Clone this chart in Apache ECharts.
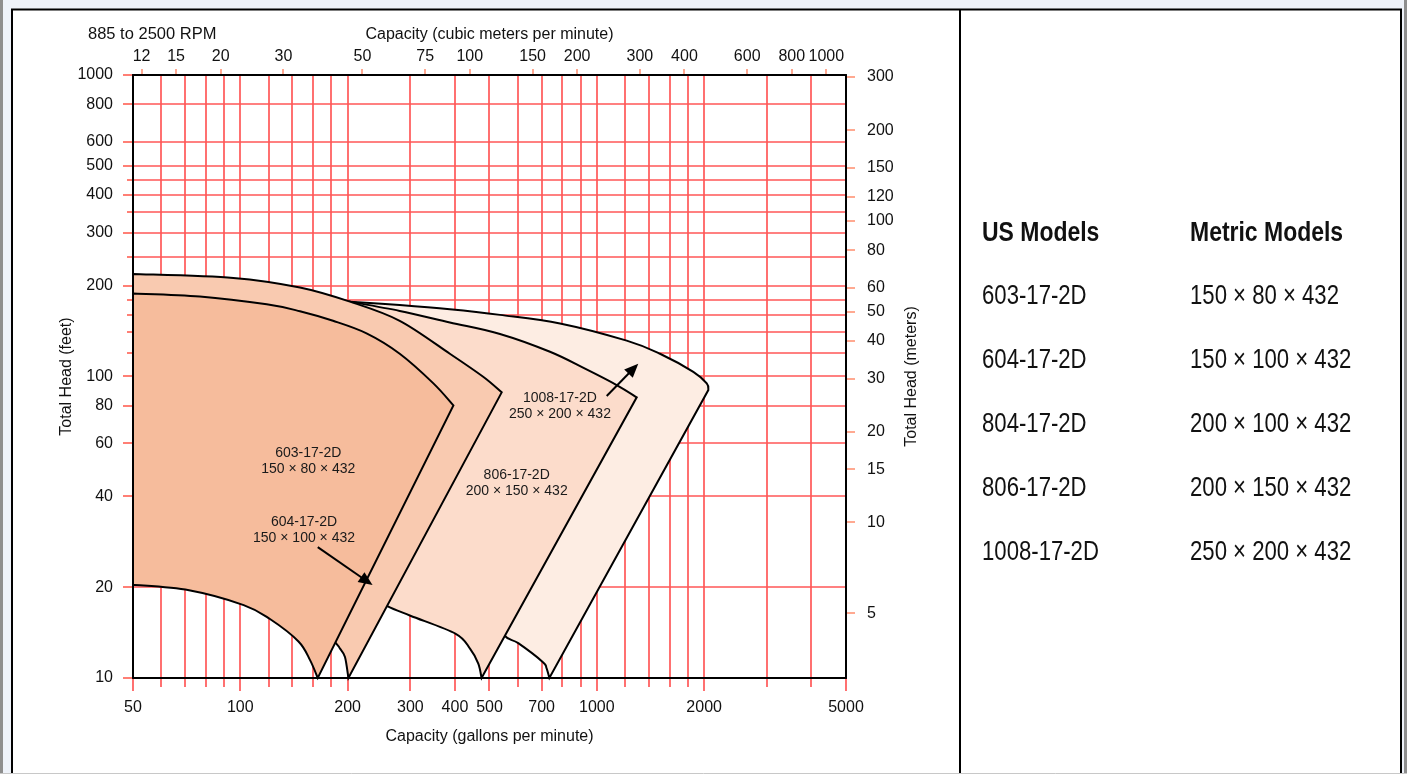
<!DOCTYPE html>
<html>
<head>
<meta charset="utf-8">
<script src="https://cdn.jsdelivr.net/npm/echarts@6/dist/echarts.min.js"></script>
<style>
html,body{margin:0;padding:0;background:#ffffff;overflow:hidden;}
#chart{width:1407px;height:774px;}
</style>
</head>
<body>
<div id="chart"></div>
<script>
// ---------------- data ----------------
const GPM_MIN = 50, GPM_MAX = 5000;
const FT_MIN = 10, FT_MAX = 1000;
const M3H_PER_GPM = 0.2271247;
const M_PER_FT = 0.3048;

// vertical grid lines (gpm) and labelled gpm ticks
const gpmGridValues = [60,70,80,90,100,120,140,160,180,200,300,400,500,600,700,800,900,1000,1200,1400,1600,1800,2000,3000,4000];
const gpmLabelValues = [50,100,200,300,400,500,700,1000,2000,5000];
// horizontal grid lines (feet) and labelled feet ticks
const ftGridValues = [20,40,60,80,100,120,140,160,180,200,250,300,350,400,450,500,600,800];
const ftLabelValues = [10,20,40,60,80,100,200,300,400,500,600,800,1000];
// secondary axes tick labels
const m3hLabelValues = [12,15,20,30,50,75,100,150,200,300,400,600,800,1000];
const meterLabelValues = [5,10,15,20,30,40,50,60,80,100,120,150,200,300];

// pump coverage regions: top curve (left -> corner), bottom curve (vertex -> left)  [gpm, ft]
const pump603Top = [[50,188.6],[77,184.3],[118.6,173.5],[147,164.6],[182,153],[226,139],[280,119],[348,94.9],[396,80.2]];
const pump603Bottom = [[164.9,10],[156.9,11.46],[145.6,13.22],[121.1,15.69],[102.2,17.45],[71.8,19.54],[50,20.38]];
const pump604Top = [[50,218.8],[95.6,212.3],[147,197.3],[203,177.1],[280,153],[387,119],[480,99.8],[541,88.6]];
const pump604Bottom = [[201,10],[196.6,11.74],[190.4,12.51],[184.4,13.15],[147,18.02],[50,24.37]];
const pump806Top = [[203,177.1],[280,165],[387,151.1],[535,138.4],[739,120.8],[926.7,106.2],[1137,93.7],[1294,85.3]];
const pump806Bottom = [[475,10],[465.1,11.17],[440.8,12.51],[402,14.02],[300,16.09],[257.4,17.36],[216.6,19.43]];
const pump1008Top = [[203,177.1],[280,172.6],[387,167.1],[535,160.1],[788.4,150],[1213,131.5],[1504,119],[1865,103.6],[2034,94.85],[2055,90.2]];
const pump1008Bottom = [[736,10],[722.6,10.78],[705,11.31],[602,13.05],[546.6,13.94],[470,18.02]];

// annotation arrows [from, to] in [gpm, ft]
const arrow604 = [[164.9,27.16],[234.9,20.33]];
const arrow1008 = [[1066,86.2],[1307,110.3]];

// region labels
const regionLabelText = ['603-17-2D\n150 × 80 × 432','604-17-2D\n150 × 100 × 432','806-17-2D\n200 × 150 × 432','1008-17-2D\n250 × 200 × 432'];
const regionLabelAt = [[155.1,52.4],[150.9,31.0],[596,44.2],[788,79.9]];

// model table
const tableHeaders = ['US Models','Metric Models'];
const usModels = ['603-17-2D','604-17-2D','804-17-2D','806-17-2D','1008-17-2D'];
const metricModels = ['150 × 80 × 432','150 × 100 × 432','200 × 100 × 432','200 × 150 × 432','250 × 200 × 432'];

// ---------------- styling helpers ----------------
const FONT = '"Liberation Sans", Arial, Helvetica, sans-serif';
const VCOL = '#ff2424';
const HCOL = '#ff5656';
const LTICK = '#ff3a2a';
const STICK = '#ff7a55';

function fontAvailable(name){
  const c = document.createElement('canvas').getContext('2d');
  const s = 'abcdefghijklmnopqrstuvwxyz0123456789ABCDEFG';
  c.font = '40px monospace'; const w1 = c.measureText(s).width;
  c.font = '40px "' + name + '", monospace'; const w2 = c.measureText(s).width;
  return Math.abs(w1 - w2) > 0.5;
}
const NARROW = fontAvailable('Liberation Sans Narrow');
const panelFamily = NARROW ? '"Liberation Sans Narrow", sans-serif' : '"Liberation Sans", sans-serif';
const panelScale = NARROW ? 1 : 0.82;

function seg(x1,y1,x2,y2,color,w){
  return {type:'line', silent:true, shape:{x1:x1,y1:y1,x2:x2,y2:y2}, style:{stroke:color, lineWidth:w||1}};
}
function txt(text,x,y,align,valign,size,extra){
  return {type:'text', silent:true, style:Object.assign({
    text:text, x:x, y:y, fill:'#111', font:(size||16)+'px '+FONT,
    align:align, verticalAlign:valign, textAlign:align, textVerticalAlign:valign
  }, extra||{})};
}
function uniqSorted(a,b){ return Array.from(new Set(a.concat(b))).sort(function(p,q){return p-q;}); }

// Catmull-Rom -> cubic bezier segments through pixel points
function crPath(pts){
  let d = '';
  for (let i = 0; i < pts.length - 1; i++){
    const p0 = pts[i-1] || pts[i], p1 = pts[i], p2 = pts[i+1], p3 = pts[i+2] || pts[i+1];
    const c1x = p1[0] + (p2[0]-p0[0])/6, c1y = p1[1] + (p2[1]-p0[1])/6;
    const c2x = p2[0] - (p3[0]-p1[0])/6, c2y = p2[1] - (p3[1]-p1[1])/6;
    d += ' C ' + c1x + ' ' + c1y + ' ' + c2x + ' ' + c2y + ' ' + p2[0] + ' ' + p2[1];
  }
  return d;
}

// ---------------- series ----------------
const gpmTickValues = uniqSorted(gpmGridValues, gpmLabelValues);
const ftTickValues = uniqSorted(ftGridValues, ftLabelValues);

const series = [];

// vertical grid + bottom ticks/labels
series.push({
  type:'custom', coordinateSystem:'cartesian2d', xAxisIndex:0, yAxisIndex:0, z:1, silent:true,
  data: gpmTickValues.map(function(v){ return [v, FT_MIN]; }),
  renderItem: function(params, api){
    const v = api.value(0);
    const b = api.coord([v, FT_MIN]), t = api.coord([v, FT_MAX]);
    const x = Math.round(b[0]);
    const lab = gpmLabelValues.indexOf(v) >= 0;
    const ch = [];
    if (gpmGridValues.indexOf(v) >= 0) ch.push(seg(x, t[1], x, b[1], VCOL, 1.3));
    ch.push(seg(x, b[1], x, b[1] + (lab ? 13 : 9), VCOL, 1.3));
    if (lab) ch.push(txt(String(v), b[0], b[1] + 30, 'center', 'middle', 16));
    return {type:'group', children:ch};
  }
});

// horizontal grid + left ticks/labels
series.push({
  type:'custom', coordinateSystem:'cartesian2d', xAxisIndex:0, yAxisIndex:0, z:1, silent:true,
  data: ftTickValues.map(function(v){ return [GPM_MIN, v]; }),
  renderItem: function(params, api){
    const v = api.value(1);
    const l = api.coord([GPM_MIN, v]), r = api.coord([GPM_MAX, v]);
    const y = Math.round(l[1]);
    const lab = ftLabelValues.indexOf(v) >= 0;
    const ch = [];
    if (ftGridValues.indexOf(v) >= 0) ch.push(seg(l[0], y, r[0], y, HCOL, 1.3));
    ch.push(seg(l[0] - (lab ? 10 : 6), y, l[0], y, LTICK, 1.3));
    if (lab) ch.push(txt(String(v), l[0] - 20, l[1], 'right', 'middle', 16));
    return {type:'group', children:ch};
  }
});

// top axis (m3/h) ticks/labels
series.push({
  type:'custom', coordinateSystem:'cartesian2d', xAxisIndex:1, yAxisIndex:0, z:1, silent:true,
  data: m3hLabelValues.map(function(v){ return [v, FT_MAX]; }),
  renderItem: function(params, api){
    const v = api.value(0);
    const p = api.coord([v, FT_MAX]);
    const x = Math.round(p[0]);
    return {type:'group', children:[
      seg(x, p[1] - 6, x, p[1], STICK, 1.3),
      txt(String(v), p[0], p[1] - 18, 'center', 'middle', 16)
    ]};
  }
});

// right axis (meters) ticks/labels
series.push({
  type:'custom', coordinateSystem:'cartesian2d', xAxisIndex:0, yAxisIndex:1, z:1, silent:true,
  data: meterLabelValues.map(function(v){ return [GPM_MAX, v]; }),
  renderItem: function(params, api){
    const v = api.value(1);
    const p = api.coord([GPM_MAX, v]);
    const y = Math.round(p[1]);
    return {type:'group', children:[
      seg(p[0], y, p[0] + 9, y, STICK, 1.3),
      txt(String(v), p[0] + 21, p[1], 'left', 'middle', 16)
    ]};
  }
});

// pump regions, back to front
const regions = [
  {top:pump1008Top, bottom:pump1008Bottom, fill:'#fdede3'},
  {top:pump806Top, bottom:pump806Bottom, fill:'#fcdccb'},
  {top:pump604Top, bottom:pump604Bottom, fill:'#f9cab0'},
  {top:pump603Top, bottom:pump603Bottom, fill:'#f6bc9c'}
];
regions.forEach(function(r, i){
  series.push({
    type:'custom', coordinateSystem:'cartesian2d', xAxisIndex:0, yAxisIndex:0, z:2 + i, silent:true,
    data: r.top.concat(r.bottom),
    renderItem: function(params, api){
      if (params.dataIndex !== 0) return null;
      const top = r.top.map(function(p){ return api.coord(p); });
      const bot = r.bottom.map(function(p){ return api.coord(p); });
      const d = 'M ' + top[0][0] + ' ' + top[0][1] + crPath(top) +
                ' L ' + bot[0][0] + ' ' + bot[0][1] + crPath(bot) + ' Z';
      return {type:'path', shape:{pathData:d},
              style:{fill:r.fill, stroke:'#000', lineWidth:2, lineJoin:'miter'}};
    }
  });
});

// arrows
series.push({
  type:'custom', coordinateSystem:'cartesian2d', xAxisIndex:0, yAxisIndex:0, z:8, silent:true,
  data: [arrow604, arrow1008].map(function(a){ return [a[0][0], a[0][1], a[1][0], a[1][1]]; }),
  renderItem: function(params, api){
    const p0 = api.coord([api.value(0), api.value(1)]);
    const p1 = api.coord([api.value(2), api.value(3)]);
    const dx = p1[0]-p0[0], dy = p1[1]-p0[1], L = Math.hypot(dx, dy);
    const ux = dx/L, uy = dy/L, hl = 14, hw = 6;
    const bx = p1[0] - ux*hl, by = p1[1] - uy*hl;
    return {type:'group', children:[
      seg(p0[0], p0[1], bx + ux*2, by + uy*2, '#000', 2),
      {type:'polygon', silent:true, shape:{points:[[p1[0],p1[1]],[bx - uy*hw, by + ux*hw],[bx + uy*hw, by - ux*hw]]}, style:{fill:'#000'}}
    ]};
  }
});

// region labels
series.push({
  type:'custom', coordinateSystem:'cartesian2d', xAxisIndex:0, yAxisIndex:0, z:9, silent:true,
  data: regionLabelAt,
  renderItem: function(params, api){
    const p = api.coord([api.value(0), api.value(1)]);
    return txt(regionLabelText[params.dataIndex], p[0], p[1], 'center', 'middle', 14, {lineHeight:16, fill:'#1a1a1a'});
  }
});

// ---------------- page / panel graphics ----------------
function panelText(text, x, y, bold, size){
  return {type:'text', x:x, y:y, scaleX:panelScale, silent:true,
    style:{text:text, x:0, y:0, font:(bold?'bold ':'') + size + 'px ' + panelFamily, fill:'#111',
           align:'left', verticalAlign:'middle', textAlign:'left', textVerticalAlign:'middle'}};
}
const graphics = [
  {type:'rect', silent:true, shape:{x:0,y:0,width:1407,height:9}, style:{fill:'#eef2f9'}},
  {type:'rect', silent:true, shape:{x:0,y:0,width:11,height:774}, style:{fill:'#eef2f9'}},
  {type:'rect', silent:true, shape:{x:0,y:0,width:3,height:774}, style:{fill:'#8e8e8e'}},
  {type:'rect', silent:true, shape:{x:1402,y:0,width:5,height:774}, style:{fill:'#eef2f9'}},
  {type:'rect', silent:true, shape:{x:1404,y:0,width:3,height:774}, style:{fill:'#8e8e8e'}},
  {type:'line', silent:true, shape:{x1:11,y1:9.5,x2:1402,y2:9.5}, style:{stroke:'#000',lineWidth:2}},
  {type:'line', silent:true, shape:{x1:12,y1:9,x2:12,y2:774}, style:{stroke:'#000',lineWidth:2}},
  {type:'line', silent:true, shape:{x1:1401,y1:9,x2:1401,y2:774}, style:{stroke:'#000',lineWidth:2}},
  {type:'line', silent:true, shape:{x1:960,y1:9,x2:960,y2:774}, style:{stroke:'#000',lineWidth:2}},
  {type:'line', silent:true, shape:{x1:0,y1:773.5,x2:1407,y2:773.5}, style:{stroke:'#c8c8c8',lineWidth:1}}
];
graphics.push(panelText(tableHeaders[0], 982, 233.5, true, 28));
graphics.push(panelText(tableHeaders[1], 1190, 233.5, true, 28));
usModels.forEach(function(m, i){ graphics.push(panelText(m, 982, 296.3 + i*64.17, false, 27)); });
metricModels.forEach(function(m, i){ graphics.push(panelText(m, 1190, 296.3 + i*64.17, false, 27)); });

// ---------------- chart ----------------
const axisCommon = {
  type:'log', logBase:10, z:10,
  nameLocation:'middle',
  nameTextStyle:{fontSize:16, color:'#111', fontFamily:FONT},
  axisLine:{show:true, onZero:false, lineStyle:{color:'#000', width:2}},
  axisTick:{show:false}, axisLabel:{show:false},
  splitLine:{show:false}, minorTick:{show:false}, minorSplitLine:{show:false}
};
const chart = echarts.init(document.getElementById('chart'), null, {renderer:'canvas'});
chart.setOption({
  animation:false,
  backgroundColor:'#ffffff',
  textStyle:{fontFamily:FONT},
  title:{text:'885 to 2500 RPM', left:88, top:26, padding:0,
         textStyle:{fontSize:16.5, fontWeight:'normal', color:'#111', fontFamily:FONT}},
  grid:{left:133, right:561, top:75, bottom:96, containLabel:false, outerBoundsMode:'none'},
  xAxis:[
    Object.assign({}, axisCommon, {position:'bottom', min:GPM_MIN, max:GPM_MAX,
      name:'Capacity (gallons per minute)', nameGap:51}),
    Object.assign({}, axisCommon, {position:'top', min:GPM_MIN*M3H_PER_GPM, max:GPM_MAX*M3H_PER_GPM,
      name:'Capacity (cubic meters per minute)', nameGap:32})
  ],
  yAxis:[
    Object.assign({}, axisCommon, {position:'left', min:FT_MIN, max:FT_MAX,
      name:'Total Head (feet)', nameGap:58, nameRotate:90}),
    Object.assign({}, axisCommon, {position:'right', min:FT_MIN*M_PER_FT, max:FT_MAX*M_PER_FT,
      name:'Total Head (meters)', nameGap:58, nameRotate:90})
  ],
  graphic: graphics,
  series: series
});
</script>
</body>
</html>
